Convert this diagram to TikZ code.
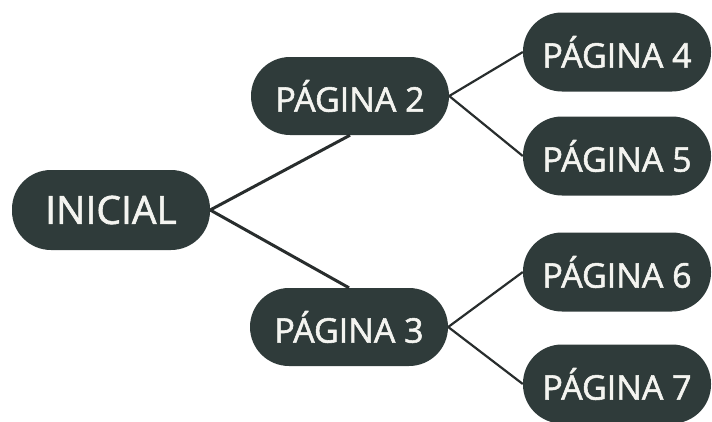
\documentclass[tikz,border=0pt]{standalone}
\usepackage{fontspec}
\setmainfont{Open Sans}[FakeBold=1.6]
\usetikzlibrary{positioning}
\definecolor{caixa}{RGB}{47,59,58}
\definecolor{linha}{RGB}{40,45,45}
\definecolor{letra}{RGB}{244,244,240}

\begin{document}
\begin{tikzpicture}
                [x=1pt,y=1pt,
                pag/.style={rectangle,fill=caixa,text=letra,rounded corners=39pt,
                        minimum width=198pt,minimum height=78pt,inner sep=0pt,
                        font=\fontsize{34}{36}\selectfont},
                folha/.style={pag,minimum width=188pt,minimum height=79pt},
                grosso/.style={draw=linha,line width=3pt},
                fino/.style={draw=linha,line width=2.2pt}]
                \useasboundingbox (0,0) rectangle (712,-421);
                \node[pag,minimum height=80pt,font=\fontsize{39}{42}\selectfont] (ini) at (111,-210){INICIAL};
                \node[pag,on grid] (p2)[above right=114pt and 239pt of ini]{PÁGINA 2};
                \node[pag,on grid] (p3)[below right=117pt and 238pt of ini]{PÁGINA 3};
                \node[folha,on grid] (p4)[above right=44pt and 267pt of p2]{PÁGINA 4};
                \node[folha,on grid] (p5)[below right=60pt and 267pt of p2]{PÁGINA 5};
                \node[folha,on grid] (p6)[above right=55pt and 268pt of p3]{PÁGINA 6};
                \node[folha,on grid] (p7)[below right=57pt and 268pt of p3]{PÁGINA 7};
                \path[-](ini.east) edge[grosso] (p2.south)
                                   edge[grosso] (p3.north)
                        (p2.east) edge[fino] (p4.west)
                                  edge[fino] (p5.west)
                        (p3.east) edge[fino] (p6.west)
                                  edge[fino] (p7.west);
            \end{tikzpicture}
\end{document}
